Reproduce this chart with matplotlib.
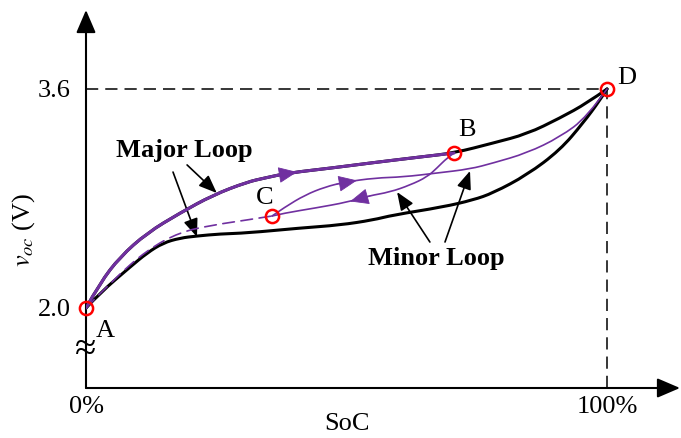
import numpy as np
import matplotlib
matplotlib.use("Agg")
import matplotlib.pyplot as plt
from matplotlib.path import Path
from matplotlib.patches import PathPatch

plt.rcParams['font.family'] = ['Liberation Serif', 'DejaVu Serif']
plt.rcParams['mathtext.fontset'] = 'stix'

# ---------------- data (SoC in %, open-circuit voltage in V) ----------------
upper_soc = [0, 2.69, 6.53, 11.71, 18.04, 24.38, 30.90, 34.36, 38.77, 47.22, 54.51,
             64.11, 70.63, 78.12, 84.64, 90.98, 96.16, 100]
upper_v = [2.0, 2.183, 2.373, 2.548, 2.694, 2.825, 2.920, 2.950, 2.986, 3.023, 3.059,
           3.103, 3.132, 3.205, 3.271, 3.388, 3.497, 3.6]

lower_soc = [0, 2.69, 8.45, 11.71, 14.78, 18.04, 21.31, 25.72, 30.90, 41.07, 48.75,
             55.09, 58.93, 68.52, 74.28, 78.12, 84.64, 90.98, 95.39, 98.66, 100]
lower_v = [2.0, 2.110, 2.299, 2.402, 2.475, 2.511, 2.526, 2.541, 2.548, 2.584, 2.606,
           2.643, 2.679, 2.738, 2.789, 2.840, 2.972, 3.154, 3.351, 3.519, 3.6]

# charge path A -> B (on upper major curve, up to point B)
charge_ab_soc = upper_soc[:13]
charge_ab_v = upper_v[:13]

# dashed path A -> C
dash_soc = [0, 5.18, 11.71, 18.04, 24.38, 30.90, 35.70]
dash_v = [2.0, 2.205, 2.424, 2.555, 2.606, 2.643, 2.672]

# minor loop: B -> C (discharge)
minor_bc_soc = [70.63, 69.29, 67.37, 65.45, 62.19, 58.35, 54.13, 50.29, 43.95, 38.20, 35.70]
minor_bc_v = [3.132, 3.096, 3.023, 2.957, 2.898, 2.847, 2.818, 2.774, 2.730, 2.694, 2.672]

# minor loop: C -> D (charge)
minor_cd_soc = [35.70, 38.20, 42.03, 45.87, 49.71, 55.47, 60.84, 67.37, 73.70, 78.12,
                84.64, 90.98, 96.16, 100]
minor_cd_v = [2.672, 2.738, 2.825, 2.884, 2.920, 2.950, 2.957, 2.986, 3.015, 3.059,
              3.132, 3.249, 3.395, 3.6]

point_names = ['A', 'B', 'C', 'D']
point_soc = [0, 70.63, 35.70, 100]
point_v = [2.0, 3.132, 2.672, 3.6]

x_ticks = [0, 100]
x_tick_labels = ['0%', '100%']
y_ticks = [2.0, 3.6]
y_tick_labels = ['2.0', '3.6']

# ---------------- figure ----------------
purple = '#7030A0'
fig = plt.figure(figsize=(6.81, 4.38), dpi=100)
ax = fig.add_axes([86 / 681, 50 / 438, 594 / 681, 378 / 438])
ax.set_xlim(0, 114.0)
ax.set_ylim(1.4156, 4.1768)
for s in ax.spines.values():
    s.set_visible(False)

# axes with arrows
axis_arrow = dict(arrowstyle='-|>,head_length=0.7,head_width=0.3', lw=1.5,
                  color='black', mutation_scale=20, shrinkA=0, shrinkB=0)
ax.annotate('', xy=(1, 0), xytext=(0, 0), xycoords='axes fraction', arrowprops=axis_arrow)
ax.annotate('', xy=(0, 1), xytext=(0, 0), xycoords='axes fraction', arrowprops=axis_arrow)

ax.set_xticks(x_ticks)
ax.set_xticklabels(x_tick_labels)
ax.set_yticks(y_ticks)
ax.set_yticklabels(y_tick_labels)
ax.tick_params(axis='both', length=0, labelsize=19)
ax.tick_params(axis='y', pad=11)
ax.tick_params(axis='x', pad=6)

ax.set_xlabel('SoC', fontsize=19)
ax.xaxis.set_label_coords(0.4394, -0.066)
ax.set_ylabel(r'$v_{oc}$ (V)', fontsize=19)
ax.yaxis.set_label_coords(-0.083, 0.418)

# reference dashed lines
ax.plot([0, 100], [3.6, 3.6], color='black', lw=1.1, ls=(0, (8, 4.6)))
ax.plot([100, 100], [ax.get_ylim()[0], 3.6], color='black', lw=1.1, ls=(0, (8, 4.6)))


def smooth_curve(xs, ys, **kw):
    """Draw a smooth line through the sampled points (quadratic Bezier via midpoints)."""
    pts = np.column_stack([xs, ys]).astype(float)
    verts = [pts[0]]
    codes = [Path.MOVETO]
    n = len(pts)
    if n == 2:
        verts.append(pts[1])
        codes.append(Path.LINETO)
    for i in range(1, n - 1):
        end = pts[i + 1] if i == n - 2 else (pts[i] + pts[i + 1]) / 2
        verts += [pts[i], end]
        codes += [Path.CURVE3, Path.CURVE3]
    patch = PathPatch(Path(verts, codes), facecolor='none', capstyle='round',
                      joinstyle='round', **kw)
    ax.add_patch(patch)


smooth_curve(lower_soc, lower_v, edgecolor='black', lw=2.2, zorder=3)
smooth_curve(upper_soc, upper_v, edgecolor='black', lw=2.2, zorder=3)
smooth_curve(minor_cd_soc, minor_cd_v, edgecolor=purple, lw=1.2, zorder=4)
smooth_curve(minor_bc_soc, minor_bc_v, edgecolor=purple, lw=1.2, zorder=4)
smooth_curve(dash_soc, dash_v, edgecolor=purple, lw=1.2, linestyle=(0, (7, 4)), zorder=4)
smooth_curve(charge_ab_soc, charge_ab_v, edgecolor=purple, lw=2.2, zorder=4)


def curve_arrow(xs, ys, x_tip, direction):
    order = np.argsort(xs)
    xs_s = np.asarray(xs)[order]
    ys_s = np.asarray(ys)[order]
    y_tip = np.interp(x_tip, xs_s, ys_s)
    x_back = x_tip - direction * 4.0
    y_back = np.interp(x_back, xs_s, ys_s)
    ax.annotate('', xy=(x_tip, y_tip), xytext=(x_back, y_back),
                arrowprops=dict(arrowstyle='-|>,head_length=0.6,head_width=0.26',
                                color=purple, lw=0.6, mutation_scale=20,
                                shrinkA=0, shrinkB=0), zorder=5)


curve_arrow(charge_ab_soc, charge_ab_v, 40.5, 1)
curve_arrow(minor_cd_soc, minor_cd_v, 52.0, 1)
curve_arrow(minor_bc_soc, minor_bc_v, 50.7, -1)

# points
ax.plot(point_soc, point_v, 'o', mfc='none', mec='red', ms=9.5, mew=1.8,
        clip_on=False, zorder=6)
label_offsets = {'A': (13.7, -16.6), 'B': (9.4, 16.6), 'C': (-5, 13), 'D': (14.4, 7.9)}
for n, sx, sv in zip(point_names, point_soc, point_v):
    ax.annotate(n, xy=(sx, sv), xytext=label_offsets[n], textcoords='offset points',
                ha='center', va='center', fontsize=19)

# axis break mark
ax.text(0, 1.693, '\u2248', ha='center', va='center', fontsize=28)

# loop annotations
arrow_kw = dict(arrowstyle='-|>,head_length=0.55,head_width=0.22', color='black',
                lw=1.2, mutation_scale=20, shrinkA=0, shrinkB=0)
ax.text(18.8, 3.147, 'Major Loop', ha='center', va='center', fontsize=19,
        fontweight='bold')
ax.annotate('', xy=(25.1, 2.840), xytext=(19.4, 3.045), arrowprops=arrow_kw)
ax.annotate('', xy=(21.3, 2.519), xytext=(16.7, 2.993), arrowprops=arrow_kw)

ax.text(67.2, 2.358, 'Minor Loop', ha='center', va='center', fontsize=19,
        fontweight='bold')
ax.annotate('', xy=(59.7, 2.847), xytext=(66.0, 2.482), arrowprops=arrow_kw)
ax.annotate('', xy=(73.7, 3.001), xytext=(68.9, 2.482), arrowprops=arrow_kw)

fig.savefig('out.png', dpi=100)
